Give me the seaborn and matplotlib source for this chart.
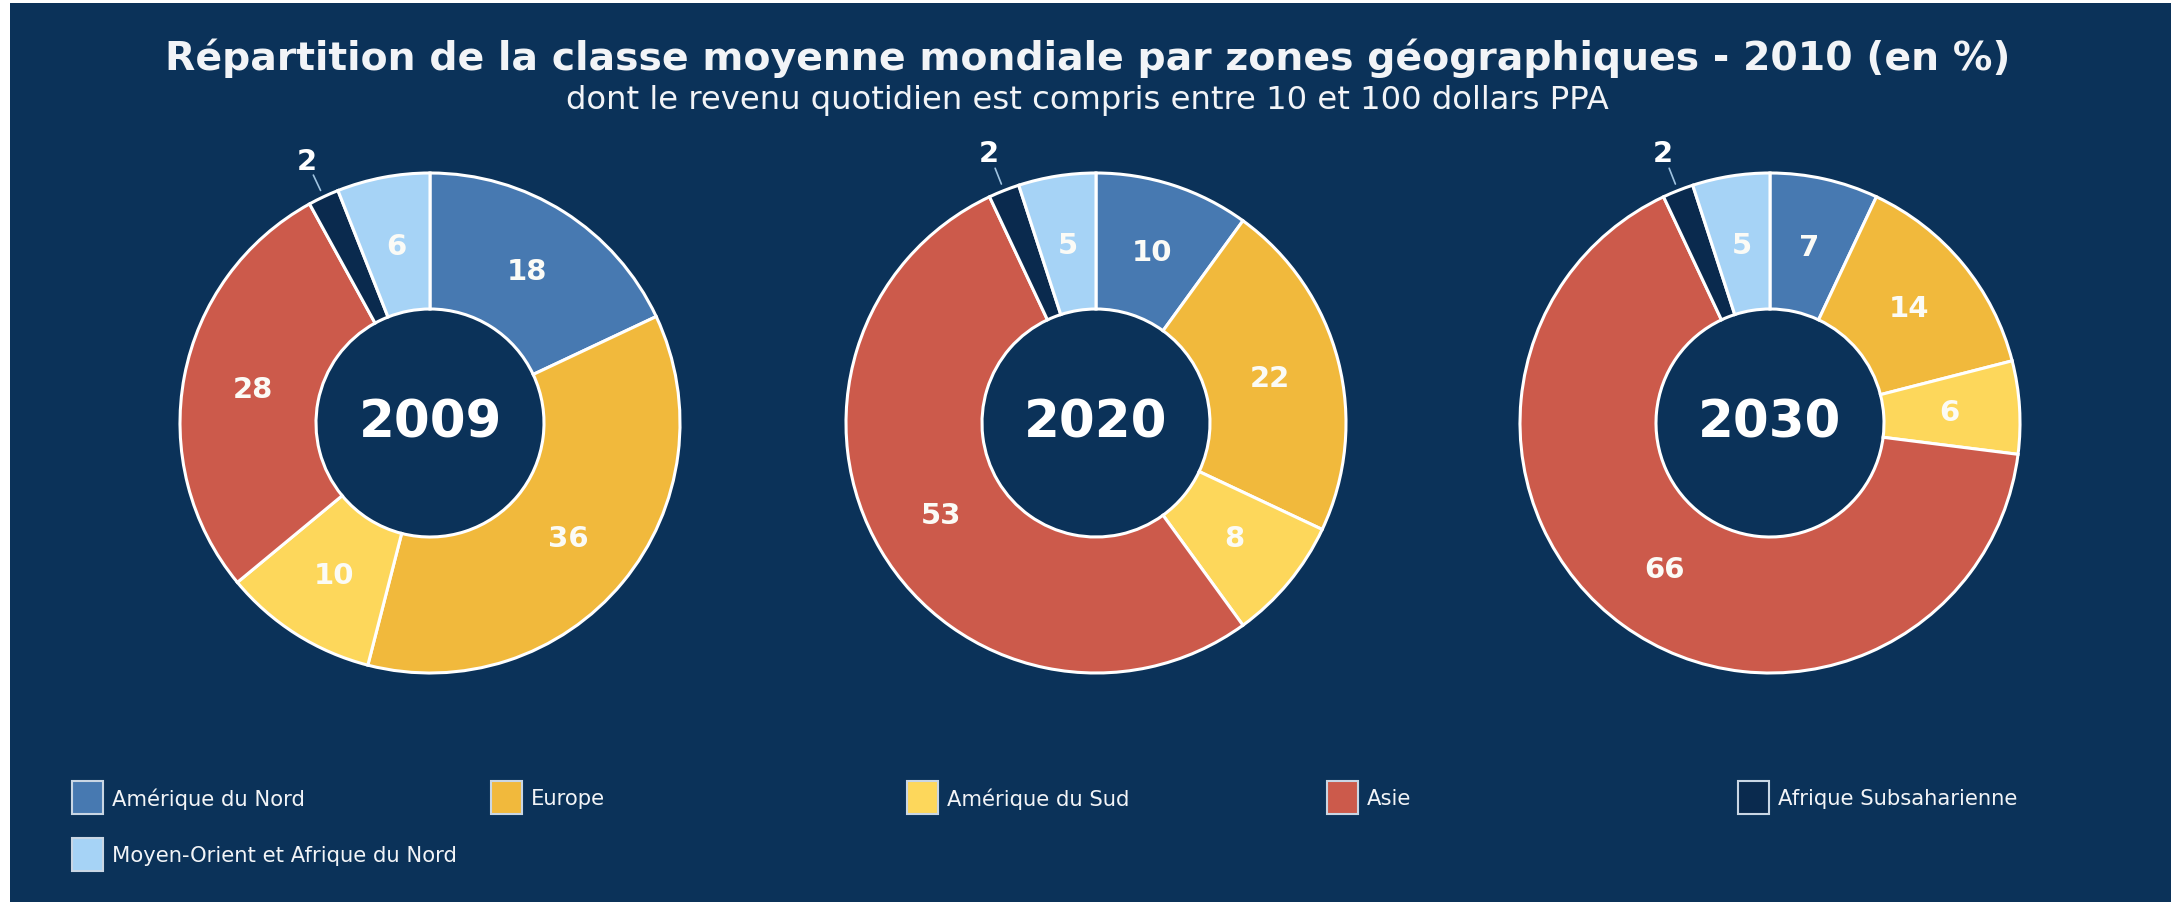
import matplotlib
matplotlib.use("Agg")
import matplotlib.pyplot as plt
from matplotlib.patches import Rectangle
import numpy as np
import seaborn as sns

# ---------------- data ----------------
years = ["2009", "2020", "2030"]
regions = ["Amérique du Nord", "Europe", "Amérique du Sud", "Asie",
           "Afrique Subsaharienne", "Moyen-Orient et Afrique du Nord"]
values_2009 = [18, 36, 10, 28, 2, 6]
values_2020 = [10, 22, 8, 53, 2, 5]
values_2030 = [7, 14, 6, 66, 2, 5]
all_values = [values_2009, values_2020, values_2030]

title = "Répartition de la classe moyenne mondiale par zones géographiques - 2010 (en %)"
subtitle = "dont le revenu quotidien est compris entre 10 et 100 dollars PPA"

# ---------------- style ----------------
sns.set_theme(style="white")
plt.rcParams["font.family"] = ["DejaVu Sans"]

BG = "#0B3259"
colors = sns.color_palette(["#4779B1", "#F1B93C", "#FDD75B", "#CC5A4B", "#0A2A4E", "#A6D3F6"])

W, H = 2171, 903
fig = plt.figure(figsize=(W / 100, H / 100), dpi=100, facecolor="white")
ax = fig.add_axes([0, 0, 1, 1])
ax.set_facecolor("white")

# navy panel (slight white frame on left/top like the reference)
ax.add_patch(Rectangle((10, 0), W - 10, H - 4, facecolor=BG, edgecolor="none", zorder=0))

centers_x = [430, 1096, 1770]
center_y = H - 424
R_out, R_in = 250, 114

for vals, year, cx in zip(all_values, years, centers_x):
    wedges, _ = ax.pie(vals, colors=colors, startangle=90, counterclock=False,
                       center=(cx, center_y), radius=R_out, frame=True,
                       wedgeprops=dict(width=R_out - R_in, edgecolor="white",
                                       linewidth=2.2))
    for w in wedges:
        w.set_zorder(2)
    r_mid = (R_out + R_in) / 2 - 2
    for w, v, reg in zip(wedges, vals, regions):
        ang = np.deg2rad((w.theta1 + w.theta2) / 2)
        if reg == "Afrique Subsaharienne":
            ax.plot([cx + 257 * np.cos(ang), cx + 274 * np.cos(ang)],
                    [center_y + 257 * np.sin(ang), center_y + 274 * np.sin(ang)],
                    color="#9FC3E0", lw=1.2, zorder=3)
            ax.text(cx + 290 * np.cos(ang), center_y + 290 * np.sin(ang), str(v),
                    ha="center", va="center", color="white", fontsize=21,
                    fontweight="bold", zorder=4)
        else:
            ax.text(cx + r_mid * np.cos(ang), center_y + r_mid * np.sin(ang), str(v),
                    ha="center", va="center", color="#FBFBF6", fontsize=21,
                    fontweight="bold", zorder=4)
    ax.text(cx, center_y, year, ha="center", va="center", color="white",
            fontsize=37, fontweight="bold", zorder=4)

# titles
ax.text(1088, H - 58, title, ha="center", va="center", color="#F2F4F7",
        fontsize=28.4, fontweight="bold", zorder=5)
ax.text(1087, H - 100, subtitle, ha="center", va="center", color="#F2F4F7",
        fontsize=23.2, zorder=5)

# legend (manual grid like the reference)
leg_pos = [(72, 799), (491, 799), (907, 799), (1327, 799), (1738, 799), (72, 856)]
for (lx, ly), col, reg in zip(leg_pos, colors, regions):
    ax.add_patch(Rectangle((lx, H - ly - 16), 31, 33, facecolor=col,
                           edgecolor="#C9D6E4", linewidth=1.5, zorder=5))
    ax.text(lx + 40, H - ly, reg, ha="left", va="center", color="#F2F4F7",
            fontsize=15.2, zorder=5)

ax.set_xlim(0, W)
ax.set_ylim(0, H)
ax.set_aspect("equal", adjustable="box")
ax.axis("off")

fig.savefig("out.png", dpi=100, facecolor="white")
